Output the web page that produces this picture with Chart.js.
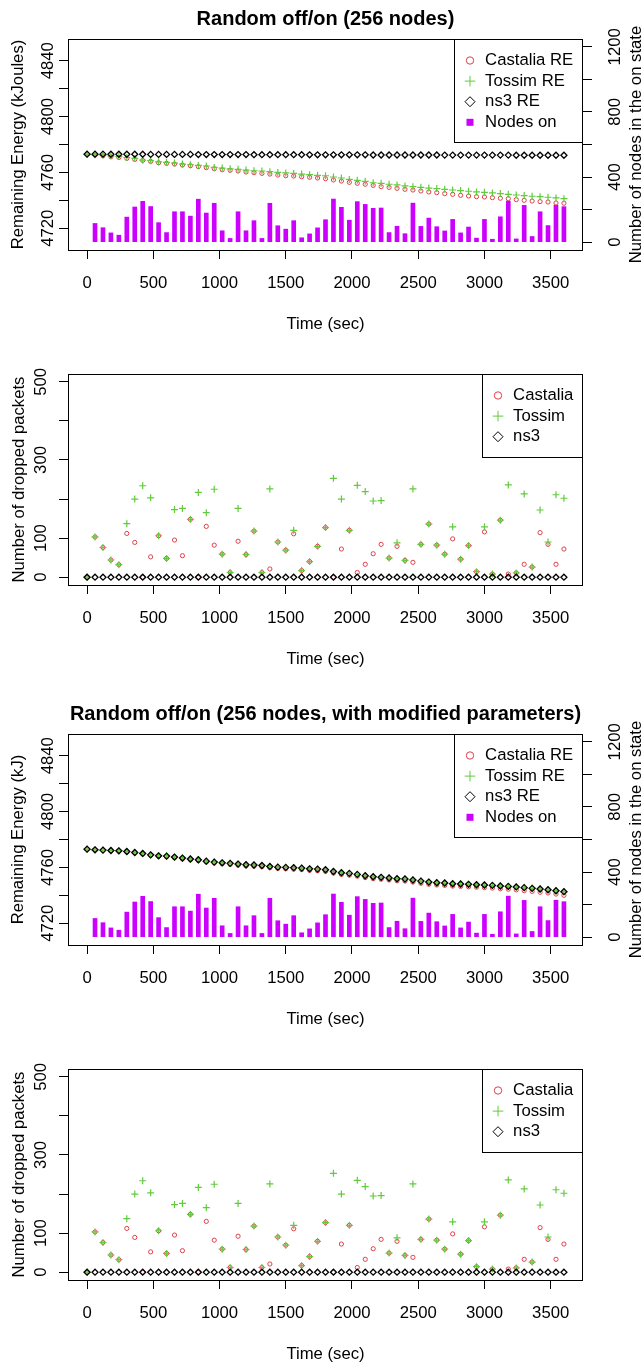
<!DOCTYPE html>
<html>
<head>
<meta charset="utf-8">
<script src="https://cdn.jsdelivr.net/npm/chart.js@4.4.1/dist/chart.umd.min.js"></script>
<style>
    html, body { margin: 0; padding: 0; background: #fff; overflow: hidden; }
    #pagina { position: relative; width: 643px; height: 1362px; }
    canvas { position: absolute; left: 0; }
</style>
</head>
<body>
<div id="pagina">
    <canvas id="painel1" width="643" height="340" style="top:0px"></canvas>
    <canvas id="painel2" width="643" height="335" style="top:340px"></canvas>
    <canvas id="painel3" width="643" height="360" style="top:675px"></canvas>
    <canvas id="painel4" width="643" height="335" style="top:1035px"></canvas>
</div>
<script>
// Tempos das medições (s)
const tempos = [0, 60, 120, 180, 240, 300, 360, 420, 480, 540, 600, 660, 720, 780, 840, 900, 960, 1020, 1080, 1140,
    1200, 1260, 1320, 1380, 1440, 1500, 1560, 1620, 1680, 1740, 1800, 1860, 1920, 1980, 2040, 2100, 2160, 2220, 2280,
    2340, 2400, 2460, 2520, 2580, 2640, 2700, 2760, 2820, 2880, 2940, 3000, 3060, 3120, 3180, 3240, 3300, 3360, 3420,
    3480, 3540, 3600];
const ticksTempo = [0, 500, 1000, 1500, 2000, 2500, 3000, 3500];

// Número de nós no estado ligado (barras)
const nosLigados = [null, 115, 89, 57, 43, 154, 216, 251, 219, 120, 59, 187, 187, 160, 264, 179, 239, 70, 23, 187, 70,
    132, 23, 239, 101, 80, 132, 27, 51, 88, 138, 265, 214, 135, 249, 232, 208, 210, 59, 98, 52, 240, 97, 148, 95, 69,
    140, 57, 93, 25, 140, 18, 156, 252, 20, 226, 35, 187, 102, 227, 218];

// Energia restante - parâmetros originais (kJ)
const castaliaRE1 = [4773.1, 4772.4, 4771.9, 4771.2, 4770.7, 4770.0, 4769.3, 4768.6, 4767.9, 4766.9,
    4766.5, 4766.0, 4765.3, 4764.8, 4764.1, 4763.4, 4762.6, 4761.9, 4761.5, 4761.0,
    4760.3, 4759.8, 4759.3, 4758.8, 4758.1, 4757.6, 4757.4, 4756.9, 4756.5, 4756.0,
    4755.5, 4754.6, 4753.8, 4752.9, 4752.2, 4751.5, 4750.7, 4749.8, 4749.3, 4748.6,
    4747.9, 4747.4, 4746.7, 4746.0, 4745.5, 4744.8, 4744.3, 4743.6, 4743.1, 4742.6,
    4742.4, 4741.9, 4741.5, 4741.2, 4740.5, 4740.0, 4739.5, 4739.1, 4738.8, 4738.1, 4737.9];
const tossimRE1 = [4773.1, 4772.6, 4772.4, 4771.9, 4771.5, 4770.7, 4770.0, 4768.8, 4768.4, 4767.6,
    4767.2, 4766.7, 4766.0, 4765.5, 4765.0, 4764.6, 4763.6, 4763.1, 4762.6, 4762.2,
    4761.7, 4761.2, 4761.0, 4760.5, 4760.0, 4759.6, 4759.3, 4758.8, 4758.4, 4757.9,
    4757.6, 4756.7, 4756.0, 4755.0, 4754.3, 4753.6, 4752.6, 4752.2, 4751.5, 4751.0,
    4750.3, 4749.8, 4749.3, 4748.8, 4748.4, 4747.9, 4747.4, 4747.0, 4746.5, 4746.0,
    4745.7, 4745.3, 4744.8, 4744.3, 4743.8, 4743.4, 4742.9, 4742.6, 4742.2, 4741.7, 4741.2];
const ns3RE1 = [4773.1, 4773.1, 4773.1, 4773.0, 4773.0, 4773.0, 4773.0, 4773.0, 4772.9, 4772.9,
    4772.9, 4772.9, 4772.9, 4772.9, 4772.8, 4772.8, 4772.8, 4772.8, 4772.8, 4772.8,
    4772.8, 4772.7, 4772.7, 4772.7, 4772.7, 4772.7, 4772.7, 4772.7, 4772.6, 4772.6,
    4772.6, 4772.6, 4772.6, 4772.6, 4772.6, 4772.6, 4772.5, 4772.5, 4772.5, 4772.5,
    4772.5, 4772.5, 4772.5, 4772.5, 4772.5, 4772.4, 4772.4, 4772.4, 4772.4, 4772.4,
    4772.4, 4772.4, 4772.4, 4772.4, 4772.3, 4772.3, 4772.3, 4772.3, 4772.3, 4772.3, 4772.3];

// Energia restante - parâmetros modificados (kJ)
const castaliaRE2 = [4773.1, 4772.5, 4772.2, 4771.9, 4771.6, 4771.1, 4770.4, 4769.6, 4768.6, 4767.9,
    4767.6, 4766.9, 4766.1, 4765.4, 4764.9, 4763.8, 4763.1, 4762.6, 4762.1, 4761.6,
    4761.0, 4760.8, 4760.5, 4759.7, 4759.2, 4759.0, 4758.7, 4758.4, 4757.9, 4757.6,
    4757.1, 4755.9, 4755.0, 4754.4, 4753.7, 4752.7, 4751.9, 4751.5, 4751.0, 4750.4,
    4750.2, 4749.5, 4748.6, 4747.9, 4747.4, 4747.1, 4746.6, 4746.4, 4746.1, 4745.8,
    4745.5, 4745.2, 4744.7, 4744.4, 4743.9, 4743.3, 4742.8, 4742.2, 4741.7, 4740.9, 4740.0];
const tossimRE2 = [4773.1, 4772.6, 4772.4, 4772.1, 4771.9, 4771.4, 4770.7, 4770.0, 4769.0, 4768.3,
    4768.1, 4767.4, 4766.7, 4766.0, 4765.5, 4764.5, 4763.8, 4763.3, 4762.9, 4762.4,
    4761.9, 4761.7, 4761.4, 4760.7, 4760.2, 4760.0, 4759.8, 4759.5, 4759.0, 4758.8,
    4758.3, 4757.1, 4756.2, 4755.7, 4755.0, 4754.0, 4753.3, 4752.9, 4752.4, 4751.9,
    4751.7, 4751.0, 4750.2, 4749.5, 4749.0, 4748.8, 4748.3, 4748.1, 4747.9, 4747.6,
    4747.4, 4747.1, 4746.7, 4746.4, 4746.0, 4745.5, 4745.0, 4744.5, 4744.0, 4743.3, 4742.6];
const ns3RE2 = [4773.1, 4772.6, 4772.4, 4772.1, 4771.9, 4771.4, 4770.7, 4770.0, 4769.0, 4768.3,
    4768.1, 4767.4, 4766.7, 4766.0, 4765.5, 4764.5, 4763.8, 4763.3, 4762.9, 4762.4,
    4761.9, 4761.7, 4761.4, 4760.7, 4760.2, 4760.0, 4759.8, 4759.5, 4759.0, 4758.8,
    4758.3, 4757.1, 4756.2, 4755.7, 4755.0, 4754.0, 4753.3, 4752.9, 4752.4, 4751.9,
    4751.7, 4751.0, 4750.2, 4749.5, 4749.0, 4748.8, 4748.3, 4748.1, 4747.9, 4747.6,
    4747.4, 4747.1, 4746.7, 4746.4, 4746.0, 4745.5, 4745.0, 4744.5, 4744.0, 4743.3, 4742.6];

// Pacotes descartados (mesmos valores nos dois cenários)
const castaliaPerdas = [0, 103, 76, 44, 32, 112, 89, 0, 52, 106, 48, 95, 55, 148, 0, 130, 82, 59, 12, 92, 58,
    118, 12, 21, 90, 69, 111, 17, 40, 79, 127, 0, 72, 120, 12, 33, 60, 84, 49, 79, 43, 38, 84, 136, 82, 59,
    98, 46, 81, 14, 116, 8, 146, 8, 11, 33, 26, 114, 84, 33, 72];
const tossimPerdas = [0, 103, 76, 44, 32, 137, 200, 234, 203, 106, 48, 173, 176, 148, 217, 165, 225, 59, 12, 176, 58,
    118, 12, 226, 90, 69, 120, 17, 40, 79, 127, 253, 200, 120, 235, 219, 195, 196, 49, 88, 43, 226, 84, 136, 82, 59,
    129, 46, 81, 14, 129, 8, 146, 236, 11, 213, 26, 172, 90, 211, 202];
const ns3Perdas = [0, 0, 0, 0, 0, 0, 0, 0, 0, 0, 0, 0, 0, 0, 0, 0, 0, 0, 0, 0, 0,
    0, 0, 0, 0, 0, 0, 0, 0, 0, 0, 0, 0, 0, 0, 0, 0, 0, 0, 0, 0, 0, 0, 0, 0, 0,
    0, 0, 0, 0, 0, 0, 0, 0, 0, 0, 0, 0, 0, 0, 0];

// Marcas dos eixos
const ticksEnergia = [4720, 4740, 4760, 4780, 4800, 4820, 4840];
const rotulosEnergia = [4720, 4760, 4800, 4840];
const ticksNos = [0, 200, 400, 600, 800, 1000, 1200];
const rotulosNos = [0, 400, 800, 1200];
const ticksPerdas = [0, 100, 200, 300, 400, 500];
const rotulosPerdas = [0, 100, 300, 500];

const COR_CASTALIA = '#E0404A';
const COR_TOSSIM = '#62CB3C';
const COR_NS3 = '#000000';
const COR_NOS = '#CC00FF';
const FAMILIA = '"Liberation Sans", Arial, Helvetica, sans-serif';
const TAM = 16.7;

Chart.defaults.font.family = FAMILIA;
Chart.defaults.font.size = TAM;
Chart.defaults.color = '#000';

// Junta tempos e valores em pontos {x, y}
function serie(valores) {
    return tempos.map((t, i) => ({ x: t, y: valores[i] }));
}

// Desenha o símbolo de um dataset na legenda
function simbolo(ctx, ds, x, y) {
    ctx.beginPath();
    if (ds.type === 'bar') {
        ctx.fillStyle = ds.backgroundColor;
        ctx.fillRect(x - 3.5, y - 3.5, 7, 7);
        return;
    }
    ctx.strokeStyle = ds.borderColor;
    ctx.lineWidth = 1;
    if (ds.pointStyle === 'circle') {
        ctx.arc(x, y, 3.7, 0, Math.PI * 2);
    } else if (ds.pointStyle === 'cross') {
        ctx.moveTo(x - 5.3, y); ctx.lineTo(x + 5.3, y);
        ctx.moveTo(x, y - 5.3); ctx.lineTo(x, y + 5.3);
    } else {
        ctx.moveTo(x - 5, y); ctx.lineTo(x, y - 5);
        ctx.lineTo(x + 5, y); ctx.lineTo(x, y + 5);
        ctx.closePath();
    }
    ctx.stroke();
}

// Moldura, legenda interna e título do eixo direito (estilo R)
const estiloR = {
    id: 'estiloR',
    afterDatasetsDraw(chart, args, opts) {
        const { ctx, chartArea: a } = chart;
        ctx.save();
        ctx.strokeStyle = '#000';
        ctx.lineWidth = 1;
        ctx.strokeRect(Math.round(a.left) + 0.5, Math.round(a.top) + 0.5,
            Math.round(a.right - a.left) - 1, Math.round(a.bottom - a.top));

        // legenda
        const itens = chart.data.datasets;
        ctx.font = TAM + 'px ' + FAMILIA;
        const largTexto = Math.max(...itens.map(d => ctx.measureText(d.label).width));
        const larg = 31 + largTexto + 9.5;
        const alt = 21 + (itens.length - 1) * 20.6 + 20.5;
        const x0 = Math.round(a.right - larg) + 0.5;
        const y0 = Math.round(a.top) + 0.5;
        ctx.fillStyle = '#fff';
        ctx.fillRect(x0, y0, a.right - x0, alt);
        ctx.strokeStyle = '#000';
        ctx.strokeRect(x0, y0, Math.round(a.right - x0) - 1, Math.round(alt));
        itens.forEach((d, i) => {
            const y = y0 + 21 + i * 20.6;
            simbolo(ctx, d, x0 + 15.5, y);
            ctx.fillStyle = '#000';
            ctx.textAlign = 'left';
            ctx.textBaseline = 'middle';
            ctx.fillText(d.label, x0 + 30.6, y);
        });

        // título do eixo direito, lido de baixo para cima
        if (opts.tituloDireita) {
            ctx.translate(opts.xTituloDireita, (a.top + a.bottom) / 2);
            ctx.rotate(-Math.PI / 2);
            ctx.fillStyle = '#000';
            ctx.textAlign = 'center';
            ctx.textBaseline = 'alphabetic';
            ctx.fillText(opts.tituloDireita, 0, 0);
        }
        ctx.restore();
    }
};

function grade() {
    return { display: true, drawOnChartArea: false, drawTicks: true, tickLength: 9, tickColor: '#000', tickWidth: 1, offset: false };
}

function escalaX() {
    return {
        type: 'linear',
        min: -144,
        max: 3744,
        offset: false,
        afterBuildTicks: s => { s.ticks = ticksTempo.map(v => ({ value: v })); },
        afterFit: s => { s.height = 90; },
        ticks: { autoSkip: false, maxRotation: 0, minRotation: 0, padding: 14, callback: v => String(v) },
        grid: grade(),
        border: { display: false },
        title: { display: true, text: 'Time (sec)', padding: { top: 0, bottom: 6 } }
    };
}

function escalaY(min, max, marcas, rotulos, titulo, pad, padTitulo) {
    return {
        type: 'linear',
        position: 'left',
        min: min,
        max: max,
        afterBuildTicks: s => { s.ticks = marcas.map(v => ({ value: v })); },
        afterFit: s => { s.width = 68; },
        ticks: {
            autoSkip: false, minRotation: 90, maxRotation: 90, crossAlign: 'center', padding: pad,
            callback: v => rotulos.includes(v) ? String(v) : ''
        },
        grid: grade(),
        border: { display: false },
        title: { display: true, text: titulo, padding: { top: padTitulo, bottom: 0 } }
    };
}

function escalaNos() {
    return {
        type: 'linear',
        position: 'right',
        min: -48,
        max: 1248,
        afterBuildTicks: s => { s.ticks = ticksNos.map(v => ({ value: v })); },
        afterFit: s => { s.width = 60; },
        ticks: {
            autoSkip: false, minRotation: 90, maxRotation: 90, crossAlign: 'center', padding: 4.35,
            callback: v => rotulosNos.includes(v) ? String(v) : ''
        },
        grid: grade(),
        border: { display: false }
    };
}

function pontos(rotulo, valores, estilo, cor, raio, espessura, ordem) {
    return {
        label: rotulo,
        data: serie(valores),
        pointStyle: estilo,
        pointRadius: raio,
        pointBorderWidth: espessura,
        borderColor: cor,
        backgroundColor: 'rgba(0,0,0,0)',
        pointBackgroundColor: 'rgba(0,0,0,0)',
        showLine: false,
        order: ordem
    };
}

// Gráfico de energia restante + barras de nós ligados
function criarEnergia(id, titulo, tituloY, sufixo, castalia, tossim, ns3, padTitulo) {
    new Chart(document.getElementById(id), {
        type: 'scatter',
        data: {
            datasets: [
                pontos('Castalia' + sufixo, castalia, 'circle', COR_CASTALIA, 2.1, 1, 3),
                pontos('Tossim' + sufixo, tossim, 'cross', COR_TOSSIM, 3.5, 1.2, 2),
                pontos('ns3' + sufixo, ns3, 'rectRot', COR_NS3, 3, 1.3, 1),
                {
                    type: 'bar',
                    label: 'Nodes on',
                    data: serie(nosLigados),
                    yAxisID: 'y2',
                    backgroundColor: COR_NOS,
                    borderWidth: 0,
                    barThickness: 4,
                    grouped: false,
                    order: 4
                }
            ]
        },
        options: {
            responsive: false,
            animation: false,
            layout: { padding: 0 },
            plugins: {
                legend: { display: false },
                tooltip: { enabled: false },
                title: {
                    display: true, text: titulo, fullSize: false,
                    font: { size: 20, weight: 'bold' },
                    padding: padTitulo
                },
                estiloR: { tituloDireita: 'Number of nodes in the on state', xTituloDireita: 640.5 }
            },
            scales: {
                x: escalaX(),
                y: escalaY(4704.4, 4855.6, ticksEnergia, rotulosEnergia, tituloY, -7.5, 8.5),
                y2: escalaNos()
            }
        },
        plugins: [estiloR]
    });
}

// Gráfico de pacotes descartados
function criarPerdas(id) {
    new Chart(document.getElementById(id), {
        type: 'scatter',
        data: {
            datasets: [
                pontos('Castalia', castaliaPerdas, 'circle', COR_CASTALIA, 2.1, 1, 3),
                pontos('Tossim', tossimPerdas, 'cross', COR_TOSSIM, 3.5, 1.2, 2),
                pontos('ns3', ns3Perdas, 'rectRot', COR_NS3, 3, 1.3, 1)
            ]
        },
        options: {
            responsive: false,
            animation: false,
            layout: { padding: { top: 34, right: 60, left: 0, bottom: 0 } },
            plugins: {
                legend: { display: false },
                tooltip: { enabled: false },
                title: { display: false },
                estiloR: {}
            },
            scales: {
                x: escalaX(),
                y: escalaY(-20, 520, ticksPerdas, rotulosPerdas, 'Number of dropped packets', 3.5, 9)
            }
        },
        plugins: [estiloR]
    });
}

criarEnergia('painel1', 'Random off/on (256 nodes)', 'Remaining Energy (kJoules)', ' RE',
    castaliaRE1, tossimRE1, ns3RE1, { top: 7.3, bottom: 7.7 });
criarPerdas('painel2');
criarEnergia('painel3', 'Random off/on (256 nodes, with modified parameters)', 'Remaining Energy (kJ)', ' RE',
    castaliaRE2, tossimRE2, ns3RE2, { top: 27, bottom: 8 });
criarPerdas('painel4');
</script>
</body>
</html>
